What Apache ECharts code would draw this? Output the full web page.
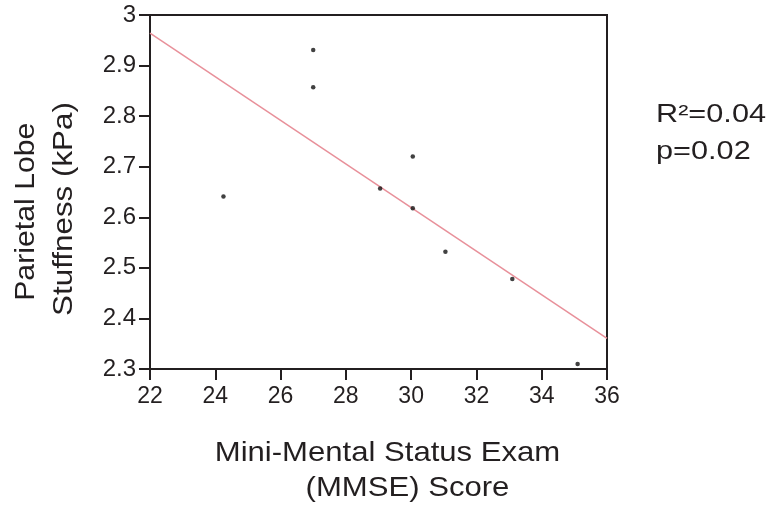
<!DOCTYPE html>
<html><head><meta charset="utf-8">
<script src="https://cdn.jsdelivr.net/npm/echarts@6/dist/echarts.min.js"></script>
<style>html,body{margin:0;padding:0;background:#fff}#c{width:773px;height:512px}</style>
</head><body><div id="c"></div>
<script>
const mmse = [27, 27, 24.25, 29.05, 30.05, 30.05, 31.05, 33.1, 35.1];
const stiffness = [2.931, 2.857, 2.641, 2.657, 2.720, 2.618, 2.532, 2.478, 2.310];
const fitX = [22, 36];
const fitY = [2.964, 2.3605];
const xTicks = [22, 24, 26, 28, 30, 32, 34, 36];
const yTicks = [2.3, 2.4, 2.5, 2.6, 2.7, 2.8, 2.9, 3];

const font = 'Liberation Sans, Arial, sans-serif';
const txt = '#231f20';
const chart = echarts.init(document.getElementById('c'));
chart.setOption({
  backgroundColor: '#fff',
  animation: false,
  grid: {left: 150, top: 15, right: 166, bottom: 143, outerBoundsMode: 'none', containLabel: false,
    show: true, borderColor: '#231f20', borderWidth: 2, backgroundColor: 'transparent'},
  xAxis: {
    type: 'value', min: 22, max: 36, interval: 2,
    axisLine: {lineStyle: {color: txt, width: 2}},
    axisTick: {show: true, length: 11, lineStyle: {color: txt, width: 2}},
    splitLine: {show: false},
    axisLabel: {color: txt, fontSize: 23, fontFamily: font, margin: 16,
      formatter: v => xTicks.includes(v) ? String(v) : ''}
  },
  yAxis: {
    type: 'value', min: 2.3, max: 3, interval: 0.1,
    axisLine: {lineStyle: {color: txt, width: 2}},
    axisTick: {show: true, length: 11, lineStyle: {color: txt, width: 2}},
    splitLine: {show: false},
    axisLabel: {color: txt, fontSize: 24, fontFamily: font, margin: 14,
      formatter: v => { const r = Math.round(v*10)/10; return yTicks.includes(r) ? String(r) : ''; }}
  },
  series: [
    {type: 'line', data: fitX.map((x, i) => [x, fitY[i]]), showSymbol: false,
      lineStyle: {color: '#e8909a', width: 1.5}, z: 2},
    {type: 'scatter', data: mmse.map((x, i) => [x, stiffness[i]]), symbolSize: 4.5,
      itemStyle: {color: '#111'}, z: 3}
  ],
  graphic: [
    {type: 'text', x: 387.5, y: 453.3, scaleX: 1.11,
      style: {text: 'Mini-Mental Status Exam', fill: txt, font: '28px ' + font, textAlign: 'center', textVerticalAlign: 'middle'}},
    {type: 'text', x: 407.5, y: 488, scaleX: 1.11,
      style: {text: '(MMSE) Score', fill: txt, font: '28px ' + font, textAlign: 'center', textVerticalAlign: 'middle'}},
    {type: 'text', x: 26.7, y: 211.7, rotation: Math.PI / 2, scaleX: 1.08,
      style: {text: 'Parietal Lobe', fill: txt, font: '28px ' + font, textAlign: 'center', textVerticalAlign: 'middle'}},
    {type: 'text', x: 64, y: 209, rotation: Math.PI / 2, scaleX: 1.12,
      style: {text: 'Stuffness (kPa)', fill: txt, font: '28px ' + font, textAlign: 'center', textVerticalAlign: 'middle'}},
    {type: 'text', x: 656, y: 115, scaleX: 1.18,
      style: {text: 'R²=0.04', fill: txt, font: '26px ' + font, textAlign: 'left', textVerticalAlign: 'middle'}},
    {type: 'text', x: 656, y: 151.5, scaleX: 1.18,
      style: {text: 'p=0.02', fill: txt, font: '26px ' + font, textAlign: 'left', textVerticalAlign: 'middle'}}
  ]
});
</script></body></html>
